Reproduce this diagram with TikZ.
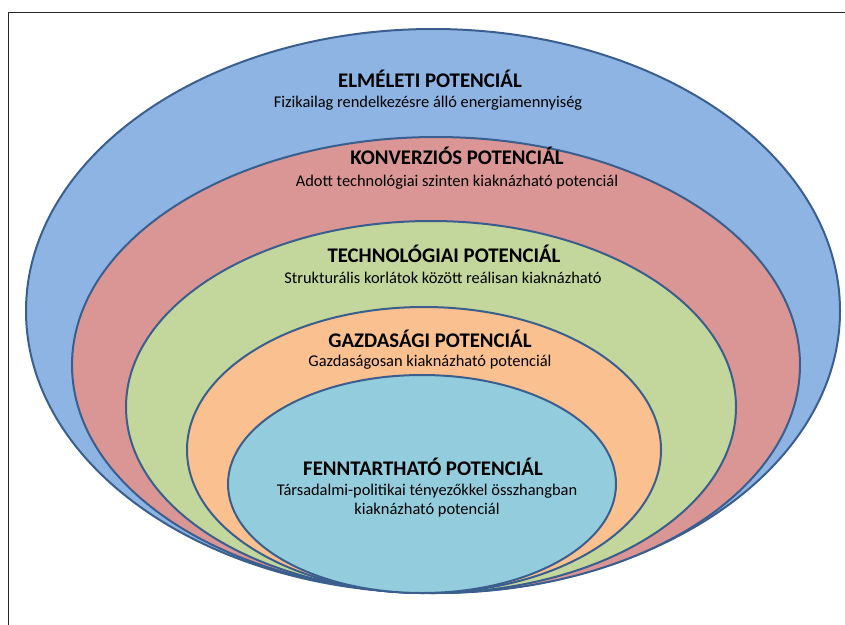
\documentclass[tikz,border=0pt]{standalone}
\usepackage{fontspec}
\setmainfont{Carlito}
\definecolor{cBlue}{HTML}{8EB4E3}
\definecolor{cRed}{HTML}{D99694}
\definecolor{cGreen}{HTML}{C3D69B}
\definecolor{cOrange}{HTML}{FAC090}
\definecolor{cCyan}{HTML}{93CDDD}
\definecolor{cLine}{HTML}{3A5F8E}
\begin{document}
\begin{tikzpicture}[x=1pt,y=-1pt,
  ring/.style={draw=cLine,line width=2pt},
  ttl/.style={font=\fontsize{20.8}{23}\selectfont\bfseries,inner sep=0pt,anchor=base},
  sub/.style={font=\fontsize{16.4}{19.5}\selectfont,inner sep=0pt,align=center,anchor=base}]
\useasboundingbox (0,0) rectangle (845,624);
\begin{scope}
\clip (0,0) rectangle (845,624);
\draw[line width=1.6pt,draw=black!85] (8.5,12.5) rectangle (860,640);
\end{scope}
\fill[ring,fill=cBlue] (433,311) ellipse [x radius=407,y radius=282];
\fill[ring,fill=cRed] (436,365) ellipse [x radius=364,y radius=228];
\fill[ring,fill=cGreen] (431,407) ellipse [x radius=305,y radius=186];
\fill[ring,fill=cOrange] (424,450) ellipse [x radius=237,y radius=143];
\fill[ring,fill=cCyan] (422,484) ellipse [x radius=194,y radius=109];
\node[ttl] (t1) at (430,87) {ELMÉLETI POTENCIÁL};
\node[sub] (s1) at (428,107) {Fizikailag rendelkezésre álló energiamennyiség};
\node[ttl] (t2) at (457,164) {KONVERZIÓS POTENCIÁL};
\node[sub] (s2) at (457,186) {Adott technológiai szinten kiaknázható potenciál};
\node[ttl] (t3) at (444,262) {TECHNOLÓGIAI POTENCIÁL};
\node[sub] (s3) at (443,283) {Strukturális korlátok között reálisan kiaknázható};
\node[ttl] (t4) at (430,347) {GAZDASÁGI POTENCIÁL};
\node[sub] (s4) at (430,366) {Gazdaságosan kiaknázható potenciál};
\node[ttl] (t5) at (423,475) {FENNTARTHATÓ POTENCIÁL};
\node[sub] (s5) at (427,495) {Társadalmi-politikai tényezőkkel összhangban};
\node[sub] (s5b) at (427,514.5) {kiaknázható potenciál};
\end{tikzpicture}
\end{document}
